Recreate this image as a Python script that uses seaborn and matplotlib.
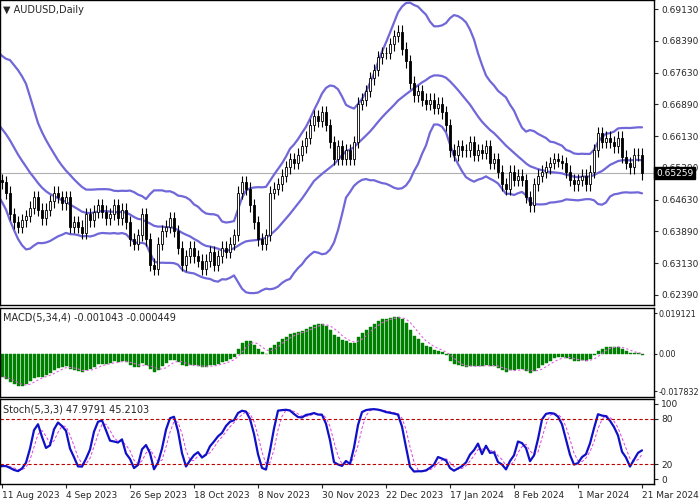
import matplotlib
matplotlib.use('Agg')
import matplotlib.pyplot as plt
import numpy as np
import pandas as pd
import seaborn as sns

sns.set_style('white')
plt.rcParams['font.family'] = ['DejaVu Sans']

# warm-up closes before the visible window (used only for the indicators)
warmup_close = [0.6660, 0.6680, 0.6700, 0.6690, 0.6650, 0.6640, 0.6660, 0.6700,
                0.6730, 0.6770, 0.6810, 0.6840, 0.6810, 0.6770, 0.6790, 0.6750,
                0.6730, 0.6720, 0.6750, 0.6730, 0.6710, 0.6700, 0.6730, 0.6710,
                0.6690, 0.6640, 0.6610, 0.6590, 0.6580, 0.6570, 0.6550, 0.6540,
                0.6530, 0.6520, 0.6510]

# visible daily closes, 11 Aug 2023 .. 21 Mar 2024
close = [0.6505,
         0.6480, 0.6430, 0.6410, 0.6400, 0.6415,
         0.6425, 0.6445, 0.6470, 0.6440, 0.6420,
         0.6440, 0.6460, 0.6480, 0.6470, 0.6455,
         0.6470, 0.6400, 0.6410, 0.6400, 0.6385,
         0.6430, 0.6415, 0.6435, 0.6450, 0.6435,
         0.6420, 0.6430, 0.6450, 0.6420, 0.6440,
         0.6410, 0.6370, 0.6360, 0.6380, 0.6430,
         0.6370, 0.6310, 0.6300, 0.6360, 0.6390,
         0.6400, 0.6420, 0.6390, 0.6350, 0.6310,
         0.6330, 0.6350, 0.6330, 0.6320, 0.6300,
         0.6320, 0.6340, 0.6310, 0.6330, 0.6350,
         0.6340, 0.6360, 0.6380, 0.6480, 0.6505,
         0.6490, 0.6450, 0.6410, 0.6370, 0.6360,
         0.6380, 0.6480, 0.6490, 0.6500, 0.6520,
         0.6540, 0.6560, 0.6550, 0.6570, 0.6590,
         0.6610, 0.6640, 0.6660, 0.6650, 0.6670,
         0.6640, 0.6600, 0.6560, 0.6590, 0.6560,
         0.6580, 0.6560, 0.6600, 0.6690, 0.6700,
         0.6720, 0.6750, 0.6770, 0.6800, 0.6810,
         0.6810, 0.6830, 0.6850, 0.6860, 0.6820,
         0.6790, 0.6740, 0.6710, 0.6720, 0.6700,
         0.6690, 0.6700, 0.6680, 0.6690, 0.6670,
         0.6640, 0.6580, 0.6570, 0.6590, 0.6580,
         0.6580, 0.6600, 0.6570, 0.6580, 0.6575,
         0.6590, 0.6550, 0.6560, 0.6530, 0.6500,
         0.6490, 0.6530, 0.6510, 0.6520, 0.6510,
         0.6470, 0.6450, 0.6500, 0.6520, 0.6530,
         0.6540, 0.6550, 0.6560, 0.6555, 0.6550,
         0.6530, 0.6510, 0.6500, 0.6510, 0.6520,
         0.6500, 0.6530, 0.6580, 0.6620, 0.6600,
         0.6610, 0.6600, 0.6590, 0.6610, 0.6565,
         0.6550, 0.6540, 0.6570, 0.6570, 0.6526]
last_price = 0.65259
price_ticks = [0.69130, 0.68390, 0.67630, 0.66890, 0.66130, 0.65390,
               0.64630, 0.63890, 0.63130, 0.62390]
macd_ticks = [0.019121, 0.0, -0.017832]
macd_labels = ['0.019121', '0.00', '-0.017832']
date_labels = ['11 Aug 2023', '4 Sep 2023', '26 Sep 2023', '18 Oct 2023', '8 Nov 2023',
               '30 Nov 2023', '22 Dec 2023', '17 Jan 2024', '8 Feb 2024', '1 Mar 2024',
               '21 Mar 2024']

nw = len(warmup_close)
c_all = pd.Series(warmup_close + close)
o_all = c_all.shift(1).fillna(c_all.iloc[0])
wick = 0.0015
h_all = np.maximum(o_all, c_all) + wick
l_all = np.minimum(o_all, c_all) - wick
x_all = np.arange(len(c_all)) - nw

# indicators
mid = c_all.rolling(20).mean()
sd = c_all.rolling(20).std(ddof=0)
up, lo = mid + 2 * sd, mid - 2 * sd
macd = c_all.ewm(span=5, adjust=False).mean() - c_all.ewm(span=34, adjust=False).mean()
sig = macd.rolling(4).mean()
hh = h_all.rolling(5).max()
ll = l_all.rolling(5).min()
k = 100 * (c_all - ll).rolling(3).sum() / (hh - ll).rolling(3).sum()
d = k.rolling(3).mean()

df = pd.DataFrame({'x': x_all, 'o': o_all, 'c': c_all, 'h': h_all, 'l': l_all,
                   'up': up, 'mid': mid, 'lo': lo, 'macd': macd, 'sig': sig,
                   'k': k, 'd': d})
df = df[df.x >= -3]

W, H = 700, 500
fs = 6.5
fig = plt.figure(figsize=(7, 5), dpi=100)
axw = 654 / W
ax1 = fig.add_axes([0, 1 - 305 / H, axw, 305 / H])
ax2 = fig.add_axes([0, 1 - 397 / H, axw, 89 / H])
ax3 = fig.add_axes([0, 1 - 484 / H, axw, 85 / H])

band_col = '#7067d8'
for col in ['up', 'mid', 'lo']:
    sns.lineplot(data=df, x='x', y=col, ax=ax1, color=band_col, lw=1.6)
upd = df.c >= df.o
ax1.vlines(df.x, df.l, df.h, color='black', lw=0.8, zorder=3)
ax1.bar(df.x[upd], (df.c - df.o)[upd], bottom=df.o[upd], width=0.6,
        color='white', edgecolor='black', lw=0.6, zorder=4)
ax1.bar(df.x[~upd], (df.c - df.o)[~upd], bottom=df.o[~upd], width=0.6,
        color='black', edgecolor='black', lw=0.6, zorder=4)
ax1.axhline(last_price, color='#b0b0b0', lw=0.8, zorder=1)
ax1.set_ylim(0.6215, 0.6935)
ax1.set_yticks(price_ticks)
ax1.set_yticklabels([f'{t:.5f}' for t in price_ticks])
ax1.text(1.003, last_price, f'{last_price:.5f}', transform=ax1.get_yaxis_transform(),
         va='center', ha='left', fontsize=fs, color='white', zorder=10,
         bbox=dict(facecolor='black', edgecolor='black', pad=1.2), clip_on=False)
ax1.text(0.005, 0.985, '\u25bc AUDUSD,Daily', transform=ax1.transAxes, va='top', fontsize=7)

ax2.bar(df.x, df.macd, width=0.75, color='#008000', edgecolor='#008000', lw=0.3)
sns.lineplot(data=df, x='x', y='sig', ax=ax2, color='#e060e0', lw=0.8, linestyle=(0, (2, 2)))
m = max(df.macd.max(), -df.macd.min())
ax2.set_ylim(min(-m * 1.12, -0.0205), max(m * 1.1, 0.0215))
ax2.set_yticks(macd_ticks)
ax2.set_yticklabels(macd_labels)
ax2.text(0.005, 0.95, 'MACD(5,34,4) -0.001043 -0.000449', transform=ax2.transAxes,
         va='top', fontsize=7)

sns.lineplot(data=df, x='x', y='d', ax=ax3, color='#e040e0', lw=0.7, linestyle=(0, (3, 2)))
sns.lineplot(data=df, x='x', y='k', ax=ax3, color='#1010c8', lw=1.6)
for lv in [20, 80]:
    ax3.axhline(lv, color='#c00000', lw=0.8, linestyle=(0, (3, 2)))
ax3.set_ylim(-6, 106)
ax3.set_yticks([100, 80, 20, 0])
ax3.text(0.005, 0.93, 'Stoch(5,3,3) 47.9791 45.2103', transform=ax3.transAxes,
         va='top', fontsize=7)

for ax in [ax1, ax2, ax3]:
    ax.set_xlim(-0.5, 163)
    ax.set_xlabel('')
    ax.set_ylabel('')
    ax.yaxis.tick_right()
    ax.tick_params(axis='y', labelsize=fs, length=3, direction='out', right=True, pad=2)
    for s in ax.spines.values():
        s.set_color('black')
        s.set_linewidth(1)
    ax.set_xticks([])
ax2.tick_params(axis='y', labelsize=5.8, length=2, pad=1)
ax3.set_xticks(np.arange(0, 161, 16))
ax3.set_xticklabels(date_labels, fontsize=fs, ha='left')
ax3.tick_params(axis='x', length=3, bottom=True, pad=2)

fig.savefig('out.png', dpi=100, facecolor='white')
